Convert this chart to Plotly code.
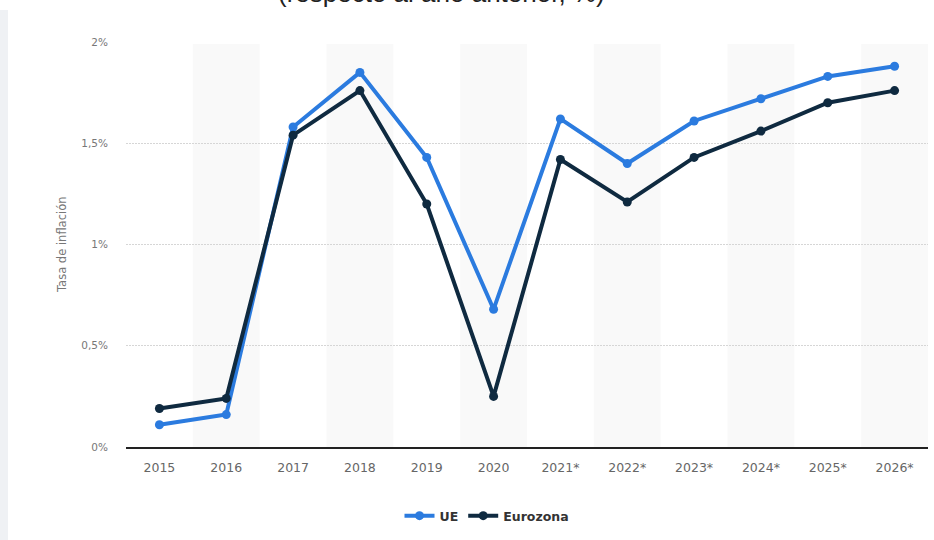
import plotly.graph_objects as go

years = ["2015", "2016", "2017", "2018", "2019", "2020",
         "2021*", "2022*", "2023*", "2024*", "2025*", "2026*"]
ue = [0.11, 0.16, 1.58, 1.85, 1.43, 0.68, 1.62, 1.40, 1.61, 1.72, 1.83, 1.88]
eurozona = [0.19, 0.24, 1.54, 1.76, 1.20, 0.25, 1.42, 1.21, 1.43, 1.56, 1.70, 1.76]
y_ticks = [0, 0.5, 1, 1.5, 2]
y_tick_labels = ["0%", "0,5%", "1%", "1,5%", "2%"]

W, H = 934, 540
ML, MR, MT, MB = 126, 6, 42, 93
PW, PH = W - ML - MR, H - MT - MB


def px_to_paper_x(p):
    return (p - ML) / PW


def px_to_paper_y(p):
    return (H - MB - p) / PH


fig = go.Figure()
fig.add_trace(go.Scatter(
    x=years, y=ue, name="UE", mode="lines+markers",
    line=dict(color="#2b7bdf", width=4),
    marker=dict(color="#2b7bdf", size=9),
))
fig.add_trace(go.Scatter(
    x=years, y=eurozona, name="Eurozona", mode="lines+markers",
    line=dict(color="#0f2a40", width=4),
    marker=dict(color="#0f2a40", size=9),
))

shapes = []
for i in range(len(years)):
    if i % 2 == 1:
        shapes.append(dict(type="rect", xref="x", yref="y",
                           x0=i - 0.5, x1=i + 0.5, y0=0, y1=1.99,
                           fillcolor="#f9f9f9", line=dict(width=0), layer="below"))
# left gray page strip
shapes.append(dict(type="rect", xref="paper", yref="paper",
                   x0=px_to_paper_x(0), x1=px_to_paper_x(8),
                   y0=px_to_paper_y(540), y1=px_to_paper_y(10),
                   fillcolor="#eff1f4", line=dict(width=0), layer="below"))

fig.update_layout(
    width=W, height=H,
    margin=dict(l=ML, r=MR, t=MT, b=MB),
    paper_bgcolor="white", plot_bgcolor="white",
    separators=",.",
    shapes=shapes,
    showlegend=True,
    legend=dict(orientation="h", x=px_to_paper_x(487), xanchor="center",
                y=px_to_paper_y(516), yanchor="middle",
                font=dict(family="DejaVu Sans", size=12.5, color="#333333", weight="bold"),
                itemwidth=30, tracegroupgap=0),
    xaxis=dict(
        type="category", range=[-0.5, len(years) - 0.5],
        showgrid=False, showline=True, linecolor="#222222", linewidth=1.5,
        ticks="", ticklabelstandoff=8,
        tickfont=dict(family="DejaVu Sans", size=12.5, color="#666666"),
        fixedrange=True,
    ),
    yaxis=dict(
        range=[0, 2], tickvals=y_ticks, ticktext=y_tick_labels,
        showgrid=True, gridcolor="#d6d6d6", griddash="2px,1px", gridwidth=1,
        zeroline=False, showline=False, ticks="", ticklabelstandoff=17,
        tickfont=dict(family="DejaVu Sans", size=10.5, color="#777777"),
        fixedrange=True,
    ),
    annotations=[
        dict(text="Tasa de inflación", xref="paper", yref="paper",
             x=px_to_paper_x(62), y=px_to_paper_y(245), textangle=-90,
             showarrow=False, xanchor="center", yanchor="middle",
             font=dict(family="DejaVu Sans", size=11.5, color="#777777")),
        dict(text="(respecto al año anterior, %)", xref="paper", yref="paper",
             x=px_to_paper_x(441), y=px_to_paper_y(10), xanchor="center",
             yanchor="bottom", showarrow=False,
             font=dict(family="Liberation Sans", size=26, color="#222222")),
    ],
)

fig.write_html("out.html", config={"displayModeBar": False},
               post_script="document.body.style.margin='0';")
